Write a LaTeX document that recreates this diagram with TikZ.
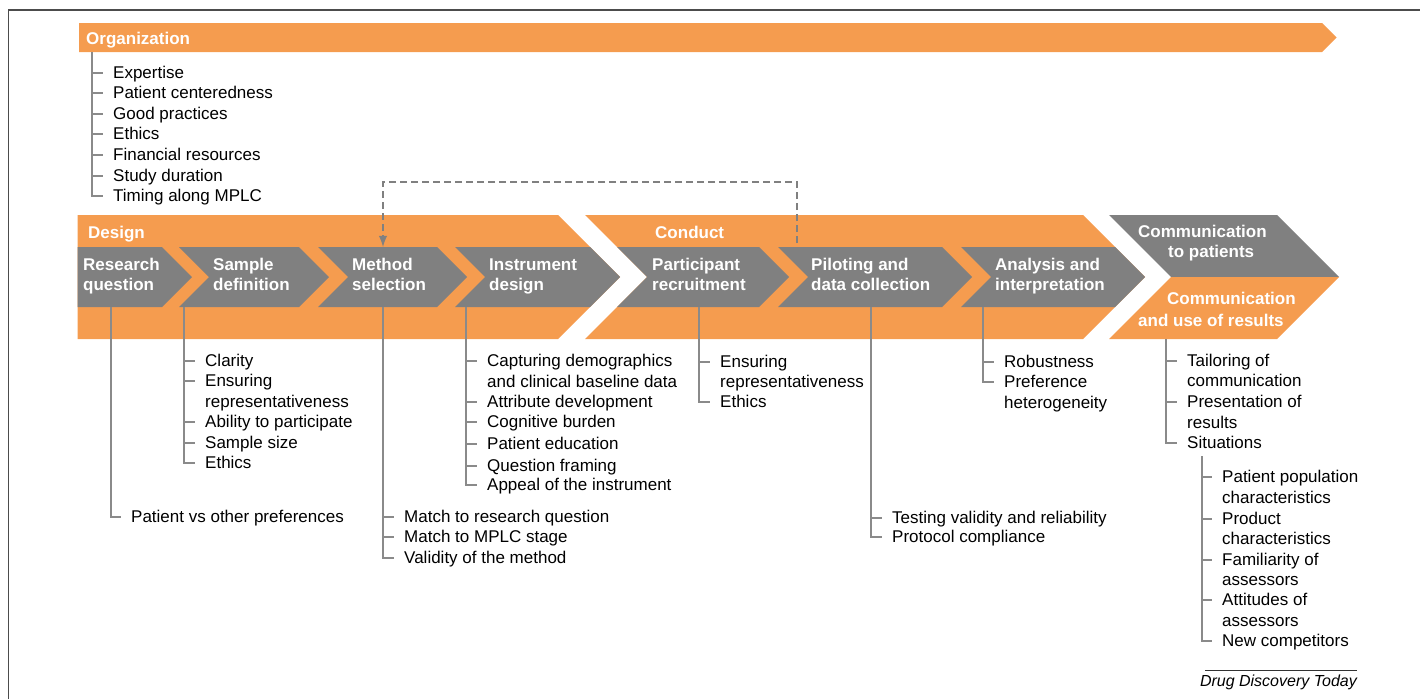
\documentclass[tikz,border=0pt]{standalone}
\usepackage{fontspec}
\setmainfont{Liberation Sans}
\usepackage{tikz}
\usetikzlibrary{arrows}
\usetikzlibrary{calc}
\definecolor{ddtorange}{RGB}{245,156,79}
\definecolor{ddtgray}{RGB}{128,128,128}
\definecolor{ddtline}{RGB}{138,138,138}

\begin{document}
\begin{tikzpicture}[x=1pt, y=-1pt,
		listitem/.style={anchor=west, inner xsep=10pt, inner ysep=0pt, text height=12pt, text depth=1pt, font=\fontsize{17}{20}\selectfont},
		stagetext/.style={align=left, anchor=north west, text=white, inner sep=0pt, font=\fontsize{17}{20}\selectfont\bfseries},
		branch/.style={draw=ddtline, line width=2.8pt}]
				\useasboundingbox (0,0) rectangle (1420,699);
				\draw[black!70, line width=1.3pt] (8.5,699) -- (8.5,10) -- (1420,10);

				% organization bar and its list
				\fill[ddtorange] (79,23) -- (1322,23) -- (1336.5,37.5) -- (1322,52) -- (79,52) -- cycle;
				\node[stagetext, anchor=base west] (organization) at (86,44) {Organization};
				\coordinate (org) at (92,52);
				\node[listitem] (org1) at (103,73) {Expertise};
				\node[listitem] (org2) at (103,93) {Patient centeredness};
				\node[listitem] (org3) at (103,114) {Good practices};
				\node[listitem] (org4) at (103,134) {Ethics};
				\node[listitem] (org5) at (103,155) {Financial resources};
				\node[listitem] (org6) at (103,176) {Study duration};
				\node[listitem] (org7) at (103,196) {Timing along MPLC};
				\draw[branch] (org) |- (org1.west);
				\draw[branch] (org) |- (org2.west);
				\draw[branch] (org) |- (org3.west);
				\draw[branch] (org) |- (org4.west);
				\draw[branch] (org) |- (org5.west);
				\draw[branch] (org) |- (org6.west);
				\draw[branch] (org) |- (org7.west);

				% the two big bands
				\fill[ddtorange] (77.5,215) -- (558,215) -- (620,277) -- (558,339) -- (77.5,339) -- cycle;
				\fill[ddtorange] (585,215) -- (1083,215) -- (1145,277) -- (1083,339) -- (585,339) -- (647,277) -- cycle;
				\node[stagetext, anchor=base west] (design) at (88,238) {Design};
				\node[stagetext, anchor=base west] (conduct) at (655,238) {Conduct};

				% steps
				\fill[ddtgray] (77.5,247) -- (162,247) -- (192,277) -- (162,307) -- (77.5,307) -- cycle;
				\fill[ddtgray] (179,247) -- (299,247) -- (329,277) -- (299,307) -- (179,307) -- (209,277) -- cycle;
				\fill[ddtgray] (318,247) -- (437,247) -- (467,277) -- (437,307) -- (318,307) -- (348,277) -- cycle;
				\fill[ddtgray] (455,247) -- (590,247) -- (620,277) -- (590,307) -- (455,307) -- (485,277) -- cycle;
				\fill[ddtgray] (617,247) -- (759,247) -- (789,277) -- (759,307) -- (617,307) -- (647,277) -- cycle;
				\fill[ddtgray] (778,247) -- (942,247) -- (972,277) -- (942,307) -- (778,307) -- (808,277) -- cycle;
				\fill[ddtgray] (961,247) -- (1115,247) -- (1145,277) -- (1115,307) -- (961,307) -- (991,277) -- cycle;
				\node[stagetext] (research) at (83,257.5) {Research\\question};
				\node[stagetext] (sample) at (213,257.5) {Sample\\definition};
				\node[stagetext] (method) at (352,257.5) {Method\\selection};
				\node[stagetext] (instrument) at (489,258.5) {Instrument\\design};
				\node[stagetext] (participant) at (652,257.5) {Participant\\recruitment};
				\node[stagetext] (piloting) at (811,257.5) {Piloting and\\data collection};
				\node[stagetext] (analysis) at (995,257.5) {Analysis and\\interpretation};

				% communication
				\fill[ddtgray] (1109,215) -- (1277,215) -- (1339,277) -- (1171,277) -- cycle;
				\fill[ddtorange] (1171,277) -- (1339,277) -- (1277,339) -- (1109,339) -- cycle;
				\node[stagetext] (commpatients) at (1138,224.5) {Communication\\\hspace*{30pt}to patients};
				\node[stagetext] (commresults) at (1138,291.5) {\hspace*{29pt}Communication\\[2pt]and use of results};

				% feedback from piloting to method selection
				\coordinate (method top) at (383,247);
				\coordinate (piloting top) at (797,243);
				\draw[ddtgray, line width=2.8pt, dash pattern=on 7pt off 4pt, -latex] (piloting top) -- ++(0,-61) -| (method top);

				% research question
				\coordinate (rq) at (111,307);
				\node[listitem] (rq1) at (121,517) {Patient vs other preferences};
				\draw[branch] (rq) |- (rq1.west);

				% sample definition
				\coordinate (sd) at (184,307);
				\node[listitem] (sd1) at (195,361) {Clarity};
				\node[listitem] (sd2) at (195,381) {Ensuring};
				\node[listitem] (sd2b) at (195,402) {representativeness};
				\node[listitem] (sd3) at (195,422) {Ability to participate};
				\node[listitem] (sd4) at (195,443) {Sample size};
				\node[listitem] (sd5) at (195,463) {Ethics};
				\draw[branch] (sd) |- (sd1.west);
				\draw[branch] (sd) |- (sd2.west);
				\draw[branch] (sd) |- (sd3.west);
				\draw[branch] (sd) |- (sd4.west);
				\draw[branch] (sd) |- (sd5.west);

				% method selection
				\coordinate (ms) at (383,307);
				\node[listitem] (ms1) at (394,517) {Match to research question};
				\node[listitem] (ms2) at (394,537) {Match to MPLC stage};
				\node[listitem] (ms3) at (394,558) {Validity of the method};
				\draw[branch] (ms) |- (ms1.west);
				\draw[branch] (ms) |- (ms2.west);
				\draw[branch] (ms) |- (ms3.west);

				% instrument design
				\coordinate (id) at (466,307);
				\node[listitem] (id1) at (477,361) {Capturing demographics};
				\node[listitem] (id1b) at (477,382) {and clinical baseline data};
				\node[listitem] (id2) at (477,402) {Attribute development};
				\node[listitem] (id3) at (477,422) {Cognitive burden};
				\node[listitem] (id4) at (477,444) {Patient education};
				\node[listitem] (id5) at (477,466) {Question framing};
				\node[listitem] (id6) at (477,485) {Appeal of the instrument};
				\draw[branch] (id) |- (id1.west);
				\draw[branch] (id) |- (id2.west);
				\draw[branch] (id) |- (id3.west);
				\draw[branch] (id) |- (id4.west);
				\draw[branch] (id) |- (id5.west);
				\draw[branch] (id) |- (id6.west);

				% participant recruitment
				\coordinate (pr) at (699,307);
				\node[listitem] (pr1) at (710,362) {Ensuring};
				\node[listitem] (pr1b) at (710,382) {representativeness};
				\node[listitem] (pr2) at (710,402) {Ethics};
				\draw[branch] (pr) |- (pr1.west);
				\draw[branch] (pr) |- (pr2.west);

				% piloting and data collection
				\coordinate (pd) at (871,307);
				\node[listitem] (pd1) at (882,518) {Testing validity and reliability};
				\node[listitem] (pd2) at (882,537) {Protocol compliance};
				\draw[branch] (pd) |- (pd1.west);
				\draw[branch] (pd) |- (pd2.west);

				% analysis and interpretation
				\coordinate (ai) at (983,307);
				\node[listitem] (ai1) at (994,362) {Robustness};
				\node[listitem] (ai2) at (994,382) {Preference};
				\node[listitem] (ai2b) at (994,403) {heterogeneity};
				\draw[branch] (ai) |- (ai1.west);
				\draw[branch] (ai) |- (ai2.west);

				% communication and use of results
				\coordinate (cr) at (1166,339);
				\node[listitem] (cr1) at (1177,361) {Tailoring of};
				\node[listitem] (cr1b) at (1177,381) {communication};
				\node[listitem] (cr2) at (1177,402) {Presentation of};
				\node[listitem] (cr2b) at (1177,423) {results};
				\node[listitem] (cr3) at (1177,443) {Situations};
				\draw[branch] (cr) |- (cr1.west);
				\draw[branch] (cr) |- (cr2.west);
				\draw[branch] (cr) |- (cr3.west);

				\coordinate (sit) at (1202,456);
				\node[listitem] (sit1) at (1212,477) {Patient population};
				\node[listitem] (sit1b) at (1212,498) {characteristics};
				\node[listitem] (sit2) at (1212,519) {Product};
				\node[listitem] (sit2b) at (1212,539) {characteristics};
				\node[listitem] (sit3) at (1212,560) {Familiarity of};
				\node[listitem] (sit3b) at (1212,580) {assessors};
				\node[listitem] (sit4) at (1212,600) {Attitudes of};
				\node[listitem] (sit4b) at (1212,621) {assessors};
				\node[listitem] (sit5) at (1212,641) {New competitors};
				\draw[branch] (sit) |- (sit1.west);
				\draw[branch] (sit) |- (sit2.west);
				\draw[branch] (sit) |- (sit3.west);
				\draw[branch] (sit) |- (sit4.west);
				\draw[branch] (sit) |- (sit5.west);

				\draw[black!80, line width=0.8pt] (1205,670) -- (1357,670);
				\node[anchor=east, inner sep=0pt, font=\fontsize{16}{19}\selectfont\itshape] (journal) at (1357,682) {Drug Discovery Today};
			\end{tikzpicture}
\end{document}
